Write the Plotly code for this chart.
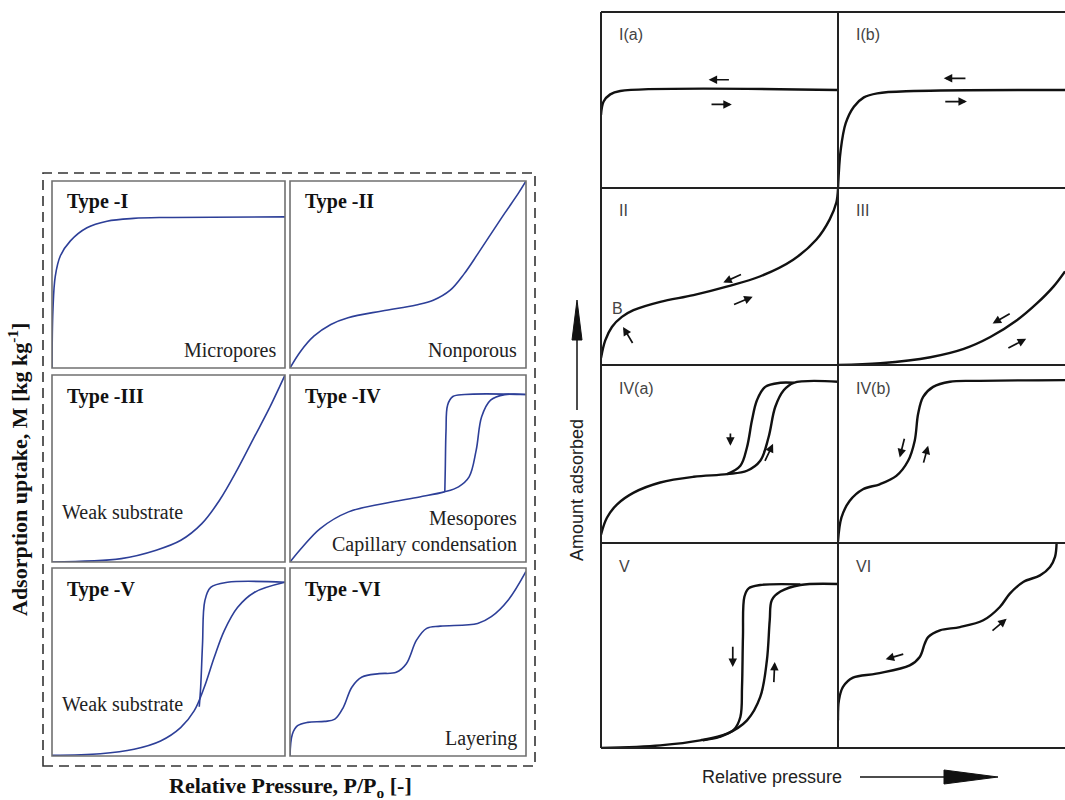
import plotly.graph_objects as go

W, H = 1065, 800


def px(x):
    return x / W


def py(y):
    return 1 - y / H


# ---------------- data: left panel (normalized 0-1 inside each box) ----------------
t1_x = [0, 0.004, 0.014, 0.036, 0.079, 0.15, 0.236, 0.35, 0.49, 1.0]
t1_y = [0, 0.31, 0.49, 0.60, 0.68, 0.75, 0.785, 0.80, 0.805, 0.808]

t2_x = [0, 0.043, 0.101, 0.173, 0.246, 0.390, 0.535, 0.607, 0.679, 0.737, 0.795, 0.853,
        0.910, 0.968, 1.0]
t2_y = [0, 0.086, 0.170, 0.233, 0.269, 0.305, 0.337, 0.362, 0.416, 0.502, 0.609, 0.720,
        0.828, 0.935, 1.0]

t3_x = [0, 0.297, 0.447, 0.553, 0.643, 0.719, 0.794, 0.869, 0.929, 1.0]
t3_y = [0, 0.018, 0.063, 0.116, 0.205, 0.330, 0.491, 0.670, 0.813, 1.0]

t4a_x = [0, 0.053, 0.128, 0.248, 0.398, 0.549, 0.654, 0.714, 0.759, 0.789, 0.812, 0.850, 0.910, 1.0]
t4a_y = [0, 0.080, 0.179, 0.268, 0.313, 0.348, 0.375, 0.402, 0.455, 0.598, 0.777, 0.866, 0.895, 0.896]
t4d_x = [1.0, 0.74, 0.69, 0.668, 0.661, 0.658, 0.656]
t4d_y = [0.896, 0.896, 0.885, 0.84, 0.70, 0.50, 0.378]

t5a_x = [0, 0.208, 0.352, 0.466, 0.552, 0.610, 0.653, 0.696, 0.739, 0.796, 0.868, 1.0]
t5a_y = [0.004, 0.012, 0.036, 0.080, 0.151, 0.240, 0.364, 0.524, 0.666, 0.790, 0.870, 0.924]
t5d_x = [1.0, 0.753, 0.681, 0.656, 0.646, 0.638, 0.632]
t5d_y = [0.924, 0.924, 0.897, 0.826, 0.595, 0.364, 0.262]

t6_x = [0, 0.010, 0.032, 0.075, 0.147, 0.190, 0.226, 0.262, 0.305, 0.378, 0.450, 0.493,
        0.536, 0.579, 0.637, 0.795, 0.853, 0.925, 1.0]
t6_y = [0, 0.116, 0.161, 0.179, 0.184, 0.196, 0.259, 0.366, 0.420, 0.438, 0.445, 0.491,
        0.616, 0.679, 0.691, 0.705, 0.741, 0.830, 0.982]

# ---------------- data: right panel ----------------
r1a_x = [0, 0.011, 0.039, 0.081, 1.0]
r1a_y = [0.415, 0.491, 0.532, 0.551, 0.557]

r1b_x = [0, 0.012, 0.034, 0.070, 0.114, 0.173, 0.334, 1.0]
r1b_y = [0, 0.217, 0.368, 0.462, 0.515, 0.538, 0.551, 0.557]

r2_x = [0, 0.018, 0.046, 0.088, 0.137, 0.250, 0.390, 0.530, 0.670, 0.811, 0.909, 0.965, 0.993, 1.0]
r2_y = [0.04, 0.139, 0.215, 0.272, 0.310, 0.357, 0.395, 0.443, 0.500, 0.595, 0.709, 0.823, 0.918, 0.994]

r3_x = [0, 0.187, 0.407, 0.554, 0.671, 0.788, 0.876, 0.949, 1.0]
r3_y = [0, 0.010, 0.044, 0.091, 0.158, 0.253, 0.348, 0.443, 0.529]

r4a_x = [0, 0.025, 0.068, 0.138, 0.250, 0.391, 0.532, 0.616, 0.672, 0.707, 0.735, 0.771, 0.813, 1.0]
r4a_y = [0.047, 0.142, 0.217, 0.283, 0.340, 0.372, 0.387, 0.406, 0.462, 0.594, 0.764, 0.858, 0.900, 0.906]
r4d_x = [0.813, 0.757, 0.693, 0.658, 0.637, 0.616, 0.588, 0.532]
r4d_y = [0.900, 0.900, 0.877, 0.802, 0.689, 0.538, 0.434, 0.387]

r4b_x = [0, 0.015, 0.051, 0.110, 0.184, 0.257, 0.309, 0.338, 0.353, 0.375, 0.419, 0.493, 0.610, 1.0]
r4b_y = [0.009, 0.142, 0.236, 0.302, 0.330, 0.377, 0.462, 0.575, 0.726, 0.821, 0.877, 0.906, 0.911, 0.915]

r5a_x = [0, 0.250, 0.419, 0.532, 0.616, 0.672, 0.700, 0.712, 0.721, 0.757, 0.841, 1.0]
r5a_y = [0, 0.013, 0.037, 0.070, 0.135, 0.249, 0.428, 0.624, 0.722, 0.763, 0.795, 0.800]
r5d_x = [0.841, 0.672, 0.623, 0.605, 0.599, 0.595, 0.588, 0.560, 0.500, 0.430]
r5d_y = [0.798, 0.795, 0.779, 0.738, 0.543, 0.299, 0.151, 0.088, 0.054, 0.038]

r6_x = [0, 0.004, 0.022, 0.066, 0.169, 0.316, 0.360, 0.382, 0.397, 0.449, 0.537, 0.640,
        0.713, 0.757, 0.816, 0.890, 0.934, 0.956, 0.963]
r6_y = [0.135, 0.233, 0.298, 0.343, 0.363, 0.403, 0.444, 0.509, 0.541, 0.574, 0.590, 0.623,
        0.688, 0.753, 0.810, 0.842, 0.883, 0.932, 1.0]

# small direction arrows: (tail_x, tail_y, head_x, head_y)
arr_1a = [(0.546, 0.615, 0.454, 0.615), (0.460, 0.475, 0.552, 0.475)]
arr_1b = [(0.568, 0.623, 0.466, 0.623), (0.466, 0.491, 0.568, 0.491)]
arr_2 = [(0.597, 0.515, 0.516, 0.466), (0.555, 0.338, 0.640, 0.386), (0.137, 0.116, 0.093, 0.215)]
arr_3 = [(0.763, 0.295, 0.681, 0.234), (0.744, 0.091, 0.829, 0.148)]
arr_4a = [(0.546, 0.623, 0.546, 0.547), (0.689, 0.453, 0.726, 0.557)]
arr_4b = [(0.294, 0.594, 0.272, 0.481), (0.375, 0.443, 0.397, 0.547)]
arr_5 = [(0.556, 0.501, 0.556, 0.395), (0.729, 0.314, 0.733, 0.420)]
arr_6 = [(0.294, 0.460, 0.210, 0.433), (0.674, 0.566, 0.743, 0.631)]

left_titles = ["Type -I", "Type -II", "Type -III", "Type -IV", "Type -V", "Type -VI"]
left_notes = [["Micropores"], ["Nonporous"], ["Weak substrate"],
              ["Mesopores", "Capillary condensation"], ["Weak substrate"], ["Layering"]]
right_titles = ["I(a)", "I(b)", "II", "III", "IV(a)", "IV(b)", "V", "VI"]

# ---------------- layout geometry (pixels) ----------------
LCOLS = [(52, 285), (290, 526)]
LROWS = [(181, 368), (375, 562), (568, 756)]
RCOLS = [(601, 838), (838, 1065)]
RROWS = [(12, 188), (188, 365), (365, 543), (543, 748)]

BLUE = "#2d3f98"
BOXGRAY = "#707070"
SERIF = "Liberation Serif, Times New Roman, serif"
SANS = "Liberation Sans, Arial, sans-serif"

left_curves = [
    [(t1_x, t1_y)], [(t2_x, t2_y)], [(t3_x, t3_y)],
    [(t4a_x, t4a_y), (t4d_x, t4d_y)], [(t5a_x, t5a_y), (t5d_x, t5d_y)], [(t6_x, t6_y)],
]
right_curves = [
    [(r1a_x, r1a_y)], [(r1b_x, r1b_y)], [(r2_x, r2_y)], [(r3_x, r3_y)],
    [(r4a_x, r4a_y), (r4d_x, r4d_y)], [(r4b_x, r4b_y)],
    [(r5a_x, r5a_y), (r5d_x, r5d_y)], [(r6_x, r6_y)],
]
right_arrows = [arr_1a, arr_1b, arr_2, arr_3, arr_4a, arr_4b, arr_5, arr_6]

fig = go.Figure()
layout = dict(
    width=W, height=H, margin=dict(l=0, r=0, t=0, b=0),
    paper_bgcolor="white", plot_bgcolor="rgba(0,0,0,0)", showlegend=False,
)
shapes = []
annotations = []
ax_i = 0


def add_axes(x0, x1, y0, y1):
    global ax_i
    ax_i += 1
    sfx = "" if ax_i == 1 else str(ax_i)
    layout["xaxis" + sfx] = dict(domain=[px(x0), px(x1)], range=[0, 1], visible=False,
                                 fixedrange=True)
    layout["yaxis" + sfx] = dict(domain=[py(y1), py(y0)], range=[0, 1], visible=False,
                                 fixedrange=True)
    return "x" + sfx, "y" + sfx


# ---- left panel ----
for k in range(6):
    r, c = divmod(k, 2)
    (x0, x1), (y0, y1) = LCOLS[c], LROWS[r]
    xa, ya = add_axes(x0, x1, y0, y1)
    for cx, cy in left_curves[k]:
        fig.add_trace(go.Scatter(x=cx, y=cy, mode="lines", xaxis=xa, yaxis=ya,
                                 line=dict(color=BLUE, width=1.6, shape="spline", smoothing=1.0),
                                 hoverinfo="skip"))
    shapes.append(dict(type="rect", xref=xa + " domain", yref=ya + " domain",
                       x0=0, x1=1, y0=0, y1=1, line=dict(color=BOXGRAY, width=1.6)))
    annotations.append(dict(x=px(x0 + 13), y=py(y0 + 21), xref="paper", yref="paper",
                            xanchor="left", yanchor="middle", showarrow=False,
                            text="<b>" + left_titles[k] + "</b>",
                            font=dict(family=SERIF, size=20, color="#111")))
    notes = left_notes[k]
    if k in (2, 4):
        ny = y1 - (50 if k == 2 else 52)
        annotations.append(dict(x=px(x0 + 8), y=py(ny), xref="paper", yref="paper",
                                xanchor="left", yanchor="middle", showarrow=False,
                                text=notes[0], font=dict(family=SERIF, size=20, color="#222")))
    else:
        for j, t in enumerate(notes):
            ny = y1 - 18 - 26 * (len(notes) - 1 - j)
            annotations.append(dict(x=px(x1 - 7), y=py(ny), xref="paper", yref="paper",
                                    xanchor="right", yanchor="middle", showarrow=False,
                                    text=t, font=dict(family=SERIF, size=20, color="#222")))

# dashed outer frame
shapes.append(dict(type="rect", xref="paper", yref="paper",
                   x0=px(43), x1=px(535), y0=py(766), y1=py(173),
                   line=dict(color="#333", width=1.6, dash="10px,6px")))

annotations.append(dict(x=px(18), y=py(470), xref="paper", yref="paper", textangle=-90,
                        showarrow=False, xanchor="center", yanchor="middle",
                        text="<b>Adsorption uptake, M [kg kg<sup>-1</sup>]</b>",
                        font=dict(family=SERIF, size=22, color="#111")))
annotations.append(dict(x=px(290), y=py(787), xref="paper", yref="paper",
                        showarrow=False, xanchor="center", yanchor="middle",
                        text="<b>Relative Pressure, P/P<sub>o</sub> [-]</b>",
                        font=dict(family=SERIF, size=22, color="#111")))

# ---- right panel ----
for k in range(8):
    r, c = divmod(k, 2)
    (x0, x1), (y0, y1) = RCOLS[c], RROWS[r]
    xa, ya = add_axes(x0, x1, y0, y1)
    for cx, cy in right_curves[k]:
        fig.add_trace(go.Scatter(x=cx, y=cy, mode="lines", xaxis=xa, yaxis=ya,
                                 line=dict(color="#111", width=2.4, shape="spline", smoothing=1.0),
                                 hoverinfo="skip"))
    for tx, ty, hx, hy in right_arrows[k]:
        annotations.append(dict(x=hx, y=hy, ax=tx, ay=ty, xref=xa, yref=ya, axref=xa, ayref=ya,
                                text="", showarrow=True, arrowhead=2, arrowsize=1,
                                arrowwidth=1.7, arrowcolor="#111", standoff=0))
    annotations.append(dict(x=px(x0 + 16), y=py(y0 + 23), xref="paper", yref="paper",
                            xanchor="left", yanchor="middle", showarrow=False,
                            text=right_titles[k], font=dict(family=SANS, size=16, color="#444")))

annotations.append(dict(x=px(617), y=py(308), xref="paper", yref="paper", xanchor="center",
                        yanchor="middle", showarrow=False, text="B",
                        font=dict(family=SANS, size=16, color="#444")))

# right grid lines
GL = dict(color="#222", width=2)
for yy in (12, 188, 365, 543, 748):
    shapes.append(dict(type="line", xref="paper", yref="paper", x0=px(601), x1=px(1065),
                       y0=py(yy), y1=py(yy), line=GL))
for xx in (601, 838):
    shapes.append(dict(type="line", xref="paper", yref="paper", x0=px(xx), x1=px(xx),
                       y0=py(12), y1=py(748), line=GL))

# axis labels with big arrows
annotations.append(dict(x=px(577), y=py(490), xref="paper", yref="paper", textangle=-90,
                        showarrow=False, xanchor="center", yanchor="middle",
                        text="Amount adsorbed", font=dict(family=SANS, size=18, color="#222")))
shapes.append(dict(type="line", xref="paper", yref="paper", x0=px(577), x1=px(577),
                   y0=py(410), y1=py(335), line=dict(color="#111", width=1.5)))
shapes.append(dict(type="path", xref="paper", yref="paper",
                   path="M {} {} L {} {} L {} {} Z".format(px(572), py(340), px(577), py(300),
                                                         px(582), py(340)),
                   fillcolor="#111", line=dict(color="#111", width=1)))

annotations.append(dict(x=px(772), y=py(777), xref="paper", yref="paper",
                        showarrow=False, xanchor="center", yanchor="middle",
                        text="Relative pressure", font=dict(family=SANS, size=18, color="#222")))
shapes.append(dict(type="line", xref="paper", yref="paper", x0=px(860), x1=px(950),
                   y0=py(777), y1=py(777), line=dict(color="#111", width=1.5)))
shapes.append(dict(type="path", xref="paper", yref="paper",
                   path="M {} {} L {} {} L {} {} Z".format(px(944), py(770), px(998), py(777),
                                                         px(944), py(784)),
                   fillcolor="#111", line=dict(color="#111", width=1)))

layout["shapes"] = shapes
layout["annotations"] = annotations
fig.update_layout(**layout)
fig.write_html("out.html")
